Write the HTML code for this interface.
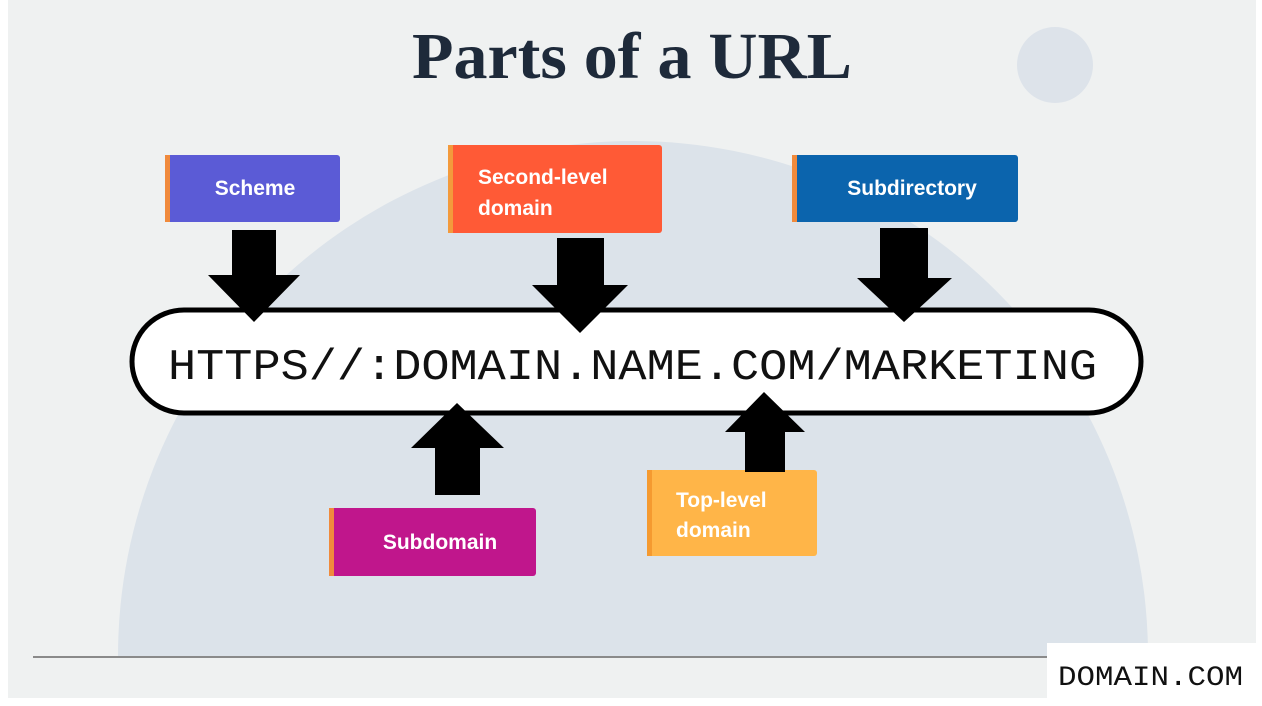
<!DOCTYPE html>
<html><head><style>
html,body{margin:0;padding:0;width:1262px;height:706px;overflow:hidden;background:#fff}
svg{display:block;overflow:hidden}
</style></head><body>
<svg width="1262" height="706" viewBox="0 0 1262 706" xmlns="http://www.w3.org/2000/svg">
<rect x="8" y="0" width="1248" height="698" fill="#eff1f1"/>
<path d="M118,656 A515,515 0 0 1 1148,656 Z" fill="#dce3ea"/>
<circle cx="1055" cy="65" r="38" fill="#dde3ea"/>
<line x1="33" y1="657" x2="1050" y2="657" stroke="#8a8a8a" stroke-width="2"/>
<text x="632" y="78" text-anchor="middle" font-family="Liberation Serif, serif" font-weight="bold" font-size="66" fill="#1e2a3a" textLength="440" lengthAdjust="spacingAndGlyphs">Parts of a URL</text>
<g font-family="Liberation Sans, sans-serif" font-weight="bold" font-size="21" fill="#fff">
<rect x="165" y="155" width="175" height="67" rx="3" fill="#5b5bd6"/><rect x="165" y="155" width="5" height="67" fill="#f08a3c"/>
<text x="255" y="195" text-anchor="middle">Scheme</text>
<rect x="448" y="145" width="214" height="88" rx="3" fill="#ff5a36"/><rect x="448" y="145" width="5" height="88" fill="#f39a3c"/>
<text x="478" y="184">Second-level</text><text x="478" y="215">domain</text>
<rect x="792" y="155" width="226" height="67" rx="3" fill="#0b64ad"/><rect x="792" y="155" width="5" height="67" fill="#f08a3c"/>
<text x="912" y="195" text-anchor="middle">Subdirectory</text>
<rect x="329" y="508" width="207" height="68" rx="3" fill="#c0168c"/><rect x="329" y="508" width="5" height="68" fill="#f08a3c"/>
<text x="440" y="549" text-anchor="middle">Subdomain</text>
<rect x="647" y="470" width="170" height="86" rx="3" fill="#ffb548"/><rect x="647" y="470" width="5" height="86" fill="#f59a30"/>
<text x="676" y="507">Top-level</text><text x="676" y="537">domain</text>
</g>
<rect x="132" y="310" width="1009" height="103" rx="52" fill="#fff" stroke="#000" stroke-width="5"/>
<text x="168" y="379" font-family="Liberation Mono, monospace" font-size="44" fill="#111" textLength="929" lengthAdjust="spacingAndGlyphs">HTTPS//:DOMAIN.NAME.COM/MARKETING</text>
<g fill="#000">
<polygon points="232,230 276,230 276,275 300,275 254,322 208,275 232,275"/>
<polygon points="557,238 604,238 604,285 628,285 580,333 532,285 557,285"/>
<polygon points="880,228 928,228 928,278 952,278 904,322 857,278 880,278"/>
<polygon points="435,495 480,495 480,448 504,448 457,403 411,448 435,448"/>
<polygon points="745,472 785,472 785,432 805,432 764,392 725,432 745,432"/>
</g>
<rect x="1047" y="643" width="215" height="63" fill="#fff"/>
<text x="1058" y="685" font-family="Liberation Mono, monospace" font-size="28" fill="#111" textLength="185" lengthAdjust="spacingAndGlyphs">DOMAIN.COM</text>
</svg>
</body></html>
